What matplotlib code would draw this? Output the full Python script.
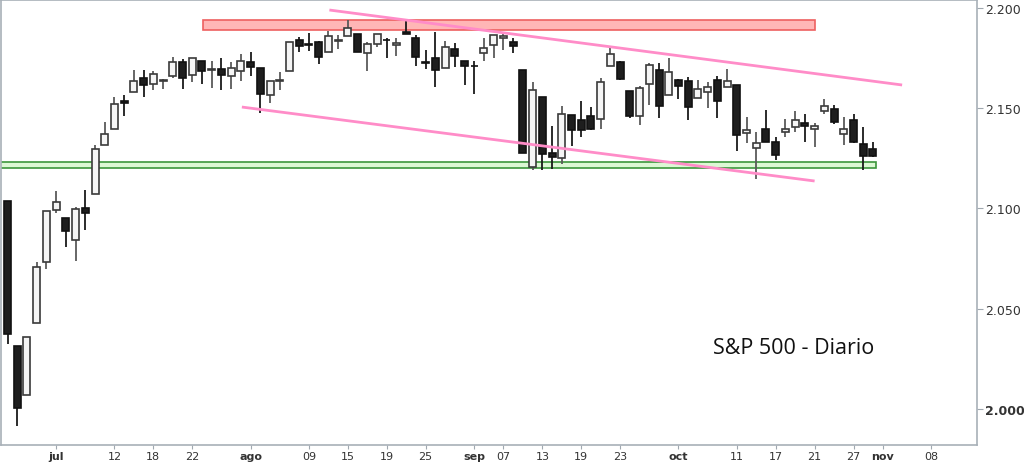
import numpy as np
import pandas as pd
import matplotlib
matplotlib.use('Agg')
import matplotlib.pyplot as plt
from matplotlib.patches import Rectangle

# S&P 500 daily candles, 24 jun - 31 oct 2016 (one row per week)
opens = [2103.8, 2031.5, 2006.7, 2042.7, 2073.2,
         2099.3, 2095.1, 2084.4, 2100.4, 2107.0,
         2131.7, 2139.5, 2153.8, 2157.9, 2165.1,
         2162.0, 2163.8, 2166.1, 2172.9, 2166.5,
         2173.7, 2169.0, 2169.8, 2166.1, 2168.8,
         2173.2, 2169.9, 2156.8, 2163.5, 2168.8,
         2183.8, 2182.2, 2182.8, 2178.0, 2183.7,
         2186.1, 2187.0, 2177.8, 2181.9, 2184.2,
         2181.6, 2187.8, 2185.1, 2173.3, 2175.1,
         2170.2, 2179.5, 2173.6, 2171.3, 2177.5,
         2181.6, 2185.2, 2182.8, 2169.1,
         2120.9, 2155.8, 2127.9, 2125.4, 2146.5,
         2144.0, 2145.9, 2144.6, 2170.9, 2173.3,
         2158.5, 2146.0, 2161.9, 2168.9, 2156.5,
         2164.3, 2163.4, 2155.2, 2158.2, 2164.2,
         2160.4, 2161.4, 2137.7, 2130.3, 2139.7,
         2133.0, 2138.3, 2140.8, 2142.5, 2139.4,
         2148.5, 2149.7, 2137.0, 2144.1, 2132.2,
         2129.8]
highs = [2103.8, 2031.5, 2036.1, 2073.1, 2098.9,
         2108.7, 2095.1, 2100.7, 2109.1, 2131.7,
         2143.2, 2155.4, 2156.5, 2169.1, 2169.1,
         2168.4, 2164.6, 2175.6, 2174.6, 2175.1,
         2173.7, 2173.5, 2175.0, 2172.9, 2177.1,
         2178.3, 2170.2, 2163.8, 2168.2, 2182.9,
         2185.4, 2187.7, 2183.4, 2188.5, 2186.3,
         2193.8, 2187.0, 2183.1, 2187.0, 2185.0,
         2185.2, 2193.4, 2186.7, 2179.0, 2187.9,
         2183.5, 2182.3, 2173.8, 2173.6, 2184.9,
         2186.6, 2187.9, 2184.9, 2169.1,
         2163.3, 2155.8, 2141.3, 2151.3, 2146.5,
         2153.6, 2150.8, 2165.1, 2180.0, 2173.8,
         2158.5, 2161.1, 2172.4, 2172.7, 2175.3,
         2164.4, 2165.5, 2164.0, 2162.9, 2165.9,
         2169.6, 2161.6, 2145.4, 2138.2, 2149.2,
         2135.6, 2144.4, 2148.4, 2147.2, 2142.6,
         2154.8, 2151.4, 2145.7, 2147.1, 2140.7,
         2133.3]
lows = [2032.6, 1991.7, 2006.7, 2042.7, 2070.0,
        2097.9, 2080.9, 2074.0, 2089.4, 2107.0,
        2131.7, 2139.5, 2146.2, 2157.9, 2155.8,
        2159.1, 2159.4, 2164.9, 2159.8, 2163.2,
        2162.0, 2160.2, 2159.1, 2159.7, 2163.5,
        2166.2, 2147.6, 2152.6, 2159.1, 2168.8,
        2177.9, 2178.6, 2172.0, 2178.0, 2179.4,
        2186.1, 2178.2, 2168.5, 2180.5, 2175.1,
        2176.0, 2186.8, 2171.3, 2169.7, 2160.4,
        2170.2, 2170.4, 2161.4, 2157.1, 2173.6,
        2175.1, 2179.1, 2177.5, 2127.8,
        2119.1, 2119.1, 2119.9, 2122.4, 2131.2,
        2135.9, 2139.2, 2139.6, 2170.9, 2164.0,
        2145.0, 2141.6, 2151.8, 2145.2, 2156.5,
        2154.8, 2144.0, 2155.2, 2150.3, 2144.9,
        2160.4, 2128.8, 2132.8, 2114.7, 2133.0,
        2124.4, 2135.5, 2138.2, 2133.4, 2130.6,
        2146.9, 2141.9, 2131.6, 2132.5, 2119.4,
        2125.5]
closes = [2037.4, 2000.5, 2036.1, 2070.8, 2098.9,
          2103.0, 2088.6, 2099.7, 2097.9, 2129.9,
          2137.2, 2152.1, 2152.4, 2163.8, 2161.7,
          2166.9, 2163.8, 2173.0, 2165.2, 2175.0,
          2168.5, 2169.2, 2166.6, 2170.1, 2173.6,
          2170.8, 2157.0, 2163.8, 2164.3, 2182.9,
          2180.9, 2181.7, 2175.5, 2185.8, 2184.1,
          2190.2, 2178.2, 2182.2, 2187.0, 2183.9,
          2182.6, 2186.9, 2175.4, 2172.5, 2169.0,
          2180.4, 2176.1, 2171.0, 2170.9, 2180.0,
          2186.5, 2186.2, 2181.3, 2127.8,
          2159.0, 2127.0, 2125.8, 2147.3, 2139.2,
          2139.1, 2139.8, 2163.1, 2177.2, 2164.7,
          2146.1, 2159.9, 2171.4, 2151.1, 2168.3,
          2161.2, 2150.5, 2159.7, 2160.8, 2153.7,
          2163.7, 2136.7, 2139.2, 2132.6, 2133.0,
          2126.5, 2139.6, 2144.3, 2141.3, 2141.2,
          2151.3, 2143.2, 2139.4, 2133.0, 2126.4,
          2126.2]

# trading calendar (US holidays removed), continues a week past the data
holidays = ['2016-07-04', '2016-09-05']
days = pd.bdate_range('2016-06-24', '2016-11-08')
days = days[~days.isin(pd.to_datetime(holidays))]

tick_days = ['2016-07-01', '2016-07-12', '2016-07-18', '2016-07-22',
             '2016-08-01', '2016-08-09', '2016-08-15', '2016-08-19', '2016-08-25',
             '2016-09-01', '2016-09-07', '2016-09-13', '2016-09-19', '2016-09-23',
             '2016-10-03', '2016-10-11', '2016-10-17', '2016-10-21', '2016-10-27',
             '2016-11-01', '2016-11-08']
month_names = {7: 'jul', 8: 'ago', 9: 'sep', 10: 'oct', 11: 'nov'}

# drawn levels
resistance = (2189.2, 2194.2)
support = (2120.2, 2123.2)
upper_channel = (2199.0, 2161.6)
lower_channel = (2150.6, 2113.7)

o = np.array(opens)
c = np.array(closes)
x = np.arange(len(o))
up = c >= o

fig = plt.figure(figsize=(10.24, 4.64), dpi=100)
ax = fig.add_axes([1 / 1024, 18 / 464, 976 / 1024, 445 / 464])

# bands
ax.add_patch(Rectangle((20.1, resistance[0]), 83.0 - 20.1, resistance[1] - resistance[0],
                       facecolor='#ffb6b6', edgecolor='#ee6060', lw=1.2, zorder=1))
ax.add_patch(Rectangle((-2, support[0]), 89.3 + 2, support[1] - support[0],
                       facecolor='#dcf8d4', edgecolor='#3c963c', lw=1.2, zorder=1))

# candles
wick_col = np.where(up, '#5a5a5a', '#1a1a1a')
ax.vlines(x, lows, highs, colors=wick_col, lw=1.3, zorder=2)
body = np.maximum(np.abs(c - o), 0.35)
ax.bar(x, body, bottom=np.minimum(o, c), width=0.72,
       color=np.where(up, '#f5f5f5', '#1e1e1e'),
       edgecolor=np.where(up, '#3a3a3a', '#111111'), linewidth=1.2, zorder=3)

# channel lines
ax.plot([33.1, 92.0], upper_channel, color='#ff8cc8', lw=2, zorder=4, solid_capstyle='butt')
ax.plot([24.1, 83.0], lower_channel, color='#ff8cc8', lw=2, zorder=4, solid_capstyle='butt')

ax.set_xlim(-0.67, 99.7)
ax.set_ylim(1982.0, 2204.0)

# x axis: trading-day index
tick_idx = [days.get_loc(pd.Timestamp(d)) for d in tick_days]
labels = []
prev_month = None
for d in tick_days:
    t = pd.Timestamp(d)
    if t.month != prev_month:
        labels.append(month_names[t.month])
    else:
        labels.append(t.strftime('%d'))
    prev_month = t.month
ax.set_xticks(tick_idx)
ax.set_xticklabels(labels)
for lab, d in zip(ax.get_xticklabels(), labels):
    if d in month_names.values():
        lab.set_fontweight('bold')

yt = [2000, 2050, 2100, 2150, 2200]
ax.yaxis.tick_right()
ax.set_yticks(yt)
ax.set_yticklabels([f'{v:,.0f}'.replace(',', '.') for v in yt])
ax.get_yticklabels()[0].set_fontweight('bold')

ax.tick_params(axis='both', direction='out', color='#a0a8b0',
               labelcolor='#333333')
ax.tick_params(axis='y', length=4, labelsize=9, pad=2)
ax.tick_params(axis='x', length=3, labelsize=8, pad=1)
for s in ax.spines.values():
    s.set_color('#a8b0b8')
    s.set_linewidth(1.2)

ax.text(0.8125, 0.218, 'S&P 500 - Diario', transform=ax.transAxes,
        ha='center', va='center', fontsize=15.5, family='Open Sans', color='#111111')

fig.savefig('out.png', dpi=100)
